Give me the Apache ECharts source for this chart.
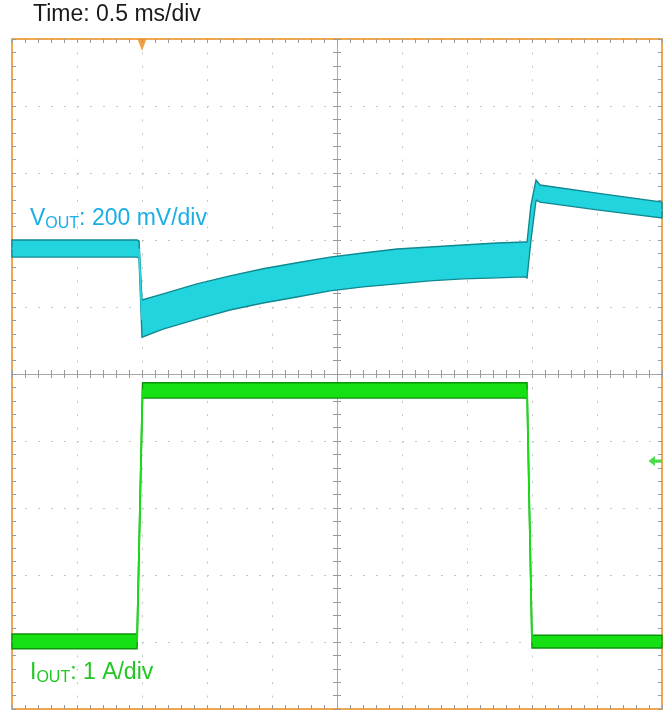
<!DOCTYPE html>
<html><head><meta charset="utf-8">
<script src="https://cdn.jsdelivr.net/npm/echarts@6/dist/echarts.min.js"></script>
<style>html,body{margin:0;padding:0;background:#fff}#c{width:666px;height:710px}</style>
</head><body><div id="c"></div>
<script>
// ---- data ----
// time axis in ms (0.5 ms/div, 10 divisions)
const vTime  = [0, 0.962, 0.977, 1.000, 1.162, 1.423, 1.677, 1.931, 2.192, 2.446, 2.700, 2.962, 3.215, 3.469, 3.731, 3.946, 3.962, 3.992, 4.031, 4.062, 4.500, 5.000];
// VOUT envelope (mV, relative), upper and lower edge of the noisy band
const vUpper = [20, 20, 17, -159, -141, -111, -87, -66, -48, -31, -19, -7, -1, 5, 11, 14, 14, 124, 199, 184, 160, 133];
const vLower = [-31, -31, -34, -270, -246, -216, -189, -168, -150, -132, -120, -111, -102, -96, -93, -90, -93, 20, 139, 133, 110, 86];
// IOUT envelope (A)
const iTime  = [0, 0.962, 1.004, 3.962, 4.000, 5.000];
const iUpper = [0.12, 0.12, 3.87, 3.87, 0.10, 0.10];
const iLower = [-0.10, -0.10, 3.64, 3.64, -0.09, -0.09];
// markers
const triggerTime = 1.0;
const iRefMarker = [4.946, 2.70];
// labels
const titleText = 'Time: 0.5 ms/div';
const vLabel = ['V', 'OUT', ': 200 mV/div'];
const iLabel = ['I', 'OUT', ': 1 A/div'];

const FONT = '"Liberation Sans", Arial, sans-serif';
const ORANGE = '#f0a850';
const TICK = '#9a9a9a';
const DOT = '#c4c4c4';

function bandRender(times, up, lo, fill, edge) {
  return function (params, api) {
    if (params.dataIndex !== 0) return null;
    const top = times.map((t, i) => api.coord([t, up[i]]));
    const bot = times.map((t, i) => api.coord([t, lo[i]]));
    const mid = times.map((t, i) => api.coord([t, (up[i] + lo[i]) / 2]));
    const poly = top.concat(bot.slice().reverse());
    return {
      type: 'group',
      children: [
        { type: 'polygon', shape: { points: poly }, style: { fill: fill, stroke: edge, lineWidth: 1.4 } },
        { type: 'polyline', shape: { points: mid }, style: { fill: null, stroke: fill, lineWidth: 1.8 } }
      ]
    };
  };
}

function frameX(pos, offset, inside, line, split) {
  return {
    type: 'value', min: 0, max: 5, interval: 0.5, position: pos, offset: offset,
    axisLine: { show: true, onZero: false, lineStyle: line },
    axisTick: { show: true, inside: inside, length: 4, lineStyle: { color: TICK } },
    minorTick: { show: true, splitNumber: 5, length: 4, lineStyle: { color: TICK } },
    axisLabel: { show: false },
    splitLine: split ? { show: true, lineStyle: { color: DOT, type: [2, 11.4], width: 1 } } : { show: false }
  };
}
function frameY(pos, offset, inside, line, split) {
  return {
    type: 'value', min: -5, max: 5, interval: 1, position: pos, offset: offset,
    axisLine: { show: true, onZero: false, lineStyle: line },
    axisTick: { show: true, inside: inside, length: 4, lineStyle: { color: TICK } },
    minorTick: { show: true, splitNumber: 5, length: 4, lineStyle: { color: TICK } },
    axisLabel: { show: false },
    splitLine: split ? { show: true, lineStyle: { color: DOT, type: [2, 11], width: 1 } } : { show: false }
  };
}

const border = { color: ORANGE, width: 2 };
const center = { color: '#a8a8a8', width: 1 };

const chart = echarts.init(document.getElementById('c'), null, { renderer: 'canvas' });
chart.setOption({
  animation: false,
  backgroundColor: '#ffffff',
  grid: { left: 12, top: 39, right: 4, bottom: 1, containLabel: false },
  xAxis: [
    frameX('bottom', 0, true, border, true),
    frameX('top', 0, true, border, false),
    frameX('bottom', -335, true, center, false),
    frameX('bottom', -335, false, center, false)
  ],
  yAxis: [
    frameY('left', 0, true, border, true),
    frameY('right', 0, true, border, false),
    frameY('left', -325, true, center, false),
    frameY('left', -325, false, center, false),
    { type: 'value', min: -1380, max: 620, show: false },
    { type: 'value', min: -1, max: 9, show: false }
  ],
  series: [
    {
      type: 'custom', xAxisIndex: 0, yAxisIndex: 5, z: 5,
      data: iTime.map((t, i) => [t, iUpper[i], iLower[i]]),
      encode: { x: 0, y: [1, 2] },
      renderItem: bandRender(iTime, iUpper, iLower, '#14e014', '#0b930b')
    },
    {
      type: 'custom', xAxisIndex: 0, yAxisIndex: 4, z: 6,
      data: vTime.map((t, i) => [t, vUpper[i], vLower[i]]),
      encode: { x: 0, y: [1, 2] },
      renderItem: bandRender(vTime, vUpper, vLower, '#22d4dd', '#108890')
    },
    {
      type: 'scatter', xAxisIndex: 0, yAxisIndex: 0, clip: false, z: 8,
      data: [[triggerTime, 5]],
      symbol: 'path://M0,0 L10,0 L5,14 Z', symbolSize: [9, 12], symbolOffset: [0, 6],
      itemStyle: { color: '#f08a1c' }
    },
    {
      type: 'scatter', xAxisIndex: 0, yAxisIndex: 5, clip: false, z: 8,
      data: [iRefMarker],
      symbol: 'path://M0,4.5 L6,0 L6,3 L12,3 L12,6 L6,6 L6,9 Z', symbolSize: [13, 10],
      itemStyle: { color: '#1ed21e' }
    }
  ],
  graphic: [
    { type: 'text', x: 33, y: 15, style: { text: titleText, font: '23px ' + FONT, fill: '#1a1a1a', verticalAlign: 'middle' } },
    { type: 'text', x: 30, y: 219, z: 10, style: {
        text: '{a|' + vLabel[0] + '}{b|' + vLabel[1] + '}{a|' + vLabel[2] + '}', verticalAlign: 'middle',
        rich: {
          a: { fontSize: 23, fontFamily: FONT, fill: '#1aaee6', lineHeight: 26 },
          b: { fontSize: 16, fontFamily: FONT, fill: '#1aaee6', lineHeight: 21, verticalAlign: 'bottom' }
        } } },
    { type: 'text', x: 30, y: 673, z: 10, style: {
        text: '{a|' + iLabel[0] + '}{b|' + iLabel[1] + '}{a|' + iLabel[2] + '}', verticalAlign: 'middle',
        rich: {
          a: { fontSize: 23, fontFamily: FONT, fill: '#22c822', lineHeight: 26 },
          b: { fontSize: 16, fontFamily: FONT, fill: '#22c822', lineHeight: 21, verticalAlign: 'bottom' }
        } } }
  ]
});
</script>
</body></html>
